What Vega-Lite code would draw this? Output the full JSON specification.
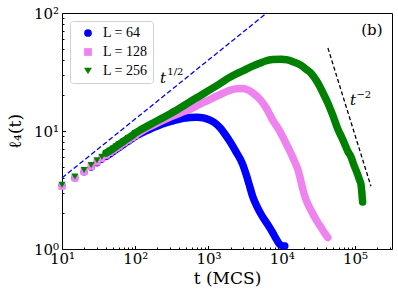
{
  "$schema": "https://vega.github.io/schema/vega-lite/v6.json",
  "width": 330,
  "height": 236,
  "autosize": {"type": "none"},
  "padding": {"left": 62, "top": 13, "right": 6, "bottom": 48},
  "config": {
    "view": {"stroke": "black", "strokeWidth": 1},
    "font": "DejaVu Serif",
    "legend": {
      "orient": "top-left", "offset": 8, "padding": 5, "strokeColor": "#d0d0d0", "fillColor": "white",
      "cornerRadius": 3, "labelFont": "Liberation Serif", "labelFontSize": 14, "labelColor": "black",
      "symbolSize": 60, "rowPadding": 5, "labelOffset": 8, "symbolOffset": 6
    }
  },
  "datasets": {
    "curves": [
      {"L": "L = 64", "t": 10, "l4": 3.45}, {"L": "L = 64", "t": 15, "l4": 4.0}, {"L": "L = 64", "t": 20, "l4": 4.5},
      {"L": "L = 64", "t": 25, "l4": 4.93}, {"L": "L = 64", "t": 30, "l4": 5.35}, {"L": "L = 64", "t": 35, "l4": 5.75},
      {"L": "L = 64", "t": 40, "l4": 6.1}, {"L": "L = 64", "t": 45, "l4": 6.4}, {"L": "L = 64", "t": 50, "l4": 6.7},
      {"L": "L = 64", "t": 55, "l4": 7.0}, {"L": "L = 64", "t": 60, "l4": 7.25}, {"L": "L = 64", "t": 70, "l4": 7.75},
      {"L": "L = 64", "t": 80, "l4": 8.2}, {"L": "L = 64", "t": 90, "l4": 8.6}, {"L": "L = 64", "t": 100, "l4": 9.0},
      {"L": "L = 64", "t": 117, "l4": 9.5}, {"L": "L = 64", "t": 150, "l4": 10.2}, {"L": "L = 64", "t": 200, "l4": 11.0},
      {"L": "L = 64", "t": 260, "l4": 11.7}, {"L": "L = 64", "t": 330, "l4": 12.2}, {"L": "L = 64", "t": 450, "l4": 12.8},
      {"L": "L = 64", "t": 560, "l4": 13.0}, {"L": "L = 64", "t": 700, "l4": 13.1}, {"L": "L = 64", "t": 850, "l4": 12.9},
      {"L": "L = 64", "t": 1000, "l4": 12.5}, {"L": "L = 64", "t": 1200, "l4": 11.8}, {"L": "L = 64", "t": 1450, "l4": 10.6},
      {"L": "L = 64", "t": 1700, "l4": 9.3}, {"L": "L = 64", "t": 2000, "l4": 8.0}, {"L": "L = 64", "t": 2400, "l4": 6.6},
      {"L": "L = 64", "t": 2900, "l4": 5.3}, {"L": "L = 64", "t": 3300, "l4": 4.2}, {"L": "L = 64", "t": 3600, "l4": 3.5},
      {"L": "L = 64", "t": 4000, "l4": 2.8}, {"L": "L = 64", "t": 4650, "l4": 2.25}, {"L": "L = 64", "t": 5400, "l4": 1.9},
      {"L": "L = 64", "t": 6400, "l4": 1.62}, {"L": "L = 64", "t": 7500, "l4": 1.38}, {"L": "L = 64", "t": 8500, "l4": 1.2},
      {"L": "L = 64", "t": 9300, "l4": 1.1}, {"L": "L = 64", "t": 10000, "l4": 1.07}, {"L": "L = 64", "t": 11000, "l4": 1.06},

      {"L": "L = 128", "t": 10, "l4": 3.4}, {"L": "L = 128", "t": 15, "l4": 4.0}, {"L": "L = 128", "t": 20, "l4": 4.52},
      {"L": "L = 128", "t": 25, "l4": 5.0}, {"L": "L = 128", "t": 30, "l4": 5.45}, {"L": "L = 128", "t": 35, "l4": 5.85},
      {"L": "L = 128", "t": 40, "l4": 6.25}, {"L": "L = 128", "t": 45, "l4": 6.6}, {"L": "L = 128", "t": 50, "l4": 6.9},
      {"L": "L = 128", "t": 55, "l4": 7.2}, {"L": "L = 128", "t": 60, "l4": 7.45}, {"L": "L = 128", "t": 70, "l4": 7.95},
      {"L": "L = 128", "t": 80, "l4": 8.4}, {"L": "L = 128", "t": 90, "l4": 8.8}, {"L": "L = 128", "t": 100, "l4": 9.2},
      {"L": "L = 128", "t": 117, "l4": 9.8}, {"L": "L = 128", "t": 150, "l4": 10.7}, {"L": "L = 128", "t": 220, "l4": 12.0},
      {"L": "L = 128", "t": 300, "l4": 13.1}, {"L": "L = 128", "t": 420, "l4": 14.3}, {"L": "L = 128", "t": 560, "l4": 15.3},
      {"L": "L = 128", "t": 750, "l4": 16.8}, {"L": "L = 128", "t": 1000, "l4": 18.3}, {"L": "L = 128", "t": 1300, "l4": 19.8},
      {"L": "L = 128", "t": 1600, "l4": 21.0}, {"L": "L = 128", "t": 2000, "l4": 22.2}, {"L": "L = 128", "t": 2400, "l4": 22.8},
      {"L": "L = 128", "t": 2900, "l4": 22.9}, {"L": "L = 128", "t": 3500, "l4": 22.2}, {"L": "L = 128", "t": 4200, "l4": 20.6},
      {"L": "L = 128", "t": 5150, "l4": 18.3}, {"L": "L = 128", "t": 6200, "l4": 15.5}, {"L": "L = 128", "t": 7500, "l4": 12.4},
      {"L": "L = 128", "t": 8600, "l4": 10.9}, {"L": "L = 128", "t": 9700, "l4": 9.6}, {"L": "L = 128", "t": 11500, "l4": 7.8},
      {"L": "L = 128", "t": 13300, "l4": 6.5}, {"L": "L = 128", "t": 15000, "l4": 5.5}, {"L": "L = 128", "t": 16600, "l4": 4.7},
      {"L": "L = 128", "t": 18000, "l4": 3.9}, {"L": "L = 128", "t": 19400, "l4": 3.2}, {"L": "L = 128", "t": 21500, "l4": 2.6},
      {"L": "L = 128", "t": 25000, "l4": 2.14}, {"L": "L = 128", "t": 29000, "l4": 1.8}, {"L": "L = 128", "t": 34000, "l4": 1.54},
      {"L": "L = 128", "t": 38000, "l4": 1.38}, {"L": "L = 128", "t": 42500, "l4": 1.25},

      {"L": "L = 256", "t": 10, "l4": 3.5}, {"L": "L = 256", "t": 15, "l4": 4.12}, {"L": "L = 256", "t": 20, "l4": 4.67},
      {"L": "L = 256", "t": 25, "l4": 5.15}, {"L": "L = 256", "t": 30, "l4": 5.65}, {"L": "L = 256", "t": 35, "l4": 6.05},
      {"L": "L = 256", "t": 40, "l4": 6.5}, {"L": "L = 256", "t": 45, "l4": 6.8}, {"L": "L = 256", "t": 50, "l4": 7.1},
      {"L": "L = 256", "t": 55, "l4": 7.4}, {"L": "L = 256", "t": 60, "l4": 7.7}, {"L": "L = 256", "t": 70, "l4": 8.2},
      {"L": "L = 256", "t": 80, "l4": 8.7}, {"L": "L = 256", "t": 90, "l4": 9.1}, {"L": "L = 256", "t": 100, "l4": 9.6},
      {"L": "L = 256", "t": 117, "l4": 10.2}, {"L": "L = 256", "t": 150, "l4": 11.1}, {"L": "L = 256", "t": 220, "l4": 12.6},
      {"L": "L = 256", "t": 300, "l4": 14.0}, {"L": "L = 256", "t": 420, "l4": 15.8}, {"L": "L = 256", "t": 560, "l4": 17.7},
      {"L": "L = 256", "t": 780, "l4": 20.0}, {"L": "L = 256", "t": 1000, "l4": 22.0}, {"L": "L = 256", "t": 1400, "l4": 25.0},
      {"L": "L = 256", "t": 1820, "l4": 27.8}, {"L": "L = 256", "t": 2400, "l4": 30.5}, {"L": "L = 256", "t": 3000, "l4": 32.5},
      {"L": "L = 256", "t": 4000, "l4": 35.5}, {"L": "L = 256", "t": 5000, "l4": 37.5}, {"L": "L = 256", "t": 6000, "l4": 39.2},
      {"L": "L = 256", "t": 7500, "l4": 40.3}, {"L": "L = 256", "t": 9700, "l4": 40.6}, {"L": "L = 256", "t": 12000, "l4": 40.0},
      {"L": "L = 256", "t": 14500, "l4": 38.5}, {"L": "L = 256", "t": 18400, "l4": 36.0}, {"L": "L = 256", "t": 22000, "l4": 33.0},
      {"L": "L = 256", "t": 25000, "l4": 31.0}, {"L": "L = 256", "t": 30000, "l4": 26.5}, {"L": "L = 256", "t": 34000, "l4": 23.0},
      {"L": "L = 256", "t": 38000, "l4": 20.0}, {"L": "L = 256", "t": 42500, "l4": 17.3}, {"L": "L = 256", "t": 50000, "l4": 13.5},
      {"L": "L = 256", "t": 59000, "l4": 10.2}, {"L": "L = 256", "t": 65000, "l4": 9.0}, {"L": "L = 256", "t": 72000, "l4": 7.8},
      {"L": "L = 256", "t": 80000, "l4": 6.7}, {"L": "L = 256", "t": 88000, "l4": 6.05}, {"L": "L = 256", "t": 96000, "l4": 5.2},
      {"L": "L = 256", "t": 103000, "l4": 4.67}, {"L": "L = 256", "t": 110000, "l4": 4.2}, {"L": "L = 256", "t": 116000, "l4": 3.8},
      {"L": "L = 256", "t": 120000, "l4": 3.6}, {"L": "L = 256", "t": 124000, "l4": 3.0}, {"L": "L = 256", "t": 127000, "l4": 2.5}
    ],
    "guides": [
      {"g": "half", "t": 10, "v": 4.0}, {"g": "half", "t": 6250, "v": 100},
      {"g": "minus2", "t": 42700, "v": 50.5}, {"g": "minus2", "t": 165000, "v": 3.4}
    ],
    "tnotes": [
      {"t": 240, "v": 28.1, "txt": "t"}, {"t": 94000, "v": 18.3, "txt": "t"}
    ],
    "supnotes": [
      {"t": 353, "v": 31.6, "txt": "1/2"}, {"t": 132000, "v": 20.2, "txt": "−2"}
    ],
    "panel": [
      {"t": 170000, "v": 71.9, "txt": "(b)"}
    ]
  },
  "layer": [
    {
      "data": {"name": "guides"},
      "transform": [{"filter": "datum.g == 'half'"}],
      "mark": {"type": "line", "color": "#0000ff", "strokeWidth": 1.3, "strokeDash": [5, 2.5]},
      "encoding": {
        "x": {
          "field": "t", "type": "quantitative",
          "scale": {"type": "log", "domain": [10, 320000], "nice": false},
          "axis": {
            "values": [10, 20, 30, 40, 50, 60, 70, 80, 90, 100, 200, 300, 400, 500, 600, 700, 800, 900, 1000, 2000, 3000, 4000, 5000, 6000, 7000, 8000, 9000, 10000, 20000, 30000, 40000, 50000, 60000, 70000, 80000, 90000, 100000, 200000, 300000],
            "labelExpr": "abs(log(datum.value)/LN10 - round(log(datum.value)/LN10)) < 0.001 ? '10' + ['⁰','¹','²','³','⁴','⁵','⁶'][round(log(datum.value)/LN10)] : ''",
            "tickSize": {"condition": {"test": "abs(log(datum.value)/LN10 - round(log(datum.value)/LN10)) < 0.001", "value": -3.5}, "value": -2},
            "labelPadding": 6, "labelFlush": false, "labelOverlap": false, "labelBound": false,
            "grid": false, "domain": false, "tickColor": "black", "labelColor": "black",
            "labelFontSize": 15, "labelFont": "DejaVu Serif",
            "title": "t (MCS)", "titleFontSize": 17, "titleFont": "DejaVu Serif", "titleFontWeight": "normal", "titleColor": "black", "titlePadding": 2
          }
        },
        "y": {
          "field": "v", "type": "quantitative",
          "scale": {"type": "log", "domain": [1, 100], "nice": false},
          "axis": {
            "values": [1, 2, 3, 4, 5, 6, 7, 8, 9, 10, 20, 30, 40, 50, 60, 70, 80, 90, 100],
            "labelExpr": "abs(log(datum.value)/LN10 - round(log(datum.value)/LN10)) < 0.001 ? '10' + ['⁰','¹','²','³'][round(log(datum.value)/LN10)] : ''",
            "tickSize": {"condition": {"test": "abs(log(datum.value)/LN10 - round(log(datum.value)/LN10)) < 0.001", "value": -3.5}, "value": -2},
            "labelPadding": 7, "labelFlush": false, "labelOverlap": false, "labelBound": false,
            "grid": false, "domain": false, "tickColor": "black", "labelColor": "black",
            "labelFontSize": 15, "labelFont": "DejaVu Serif",
            "title": "ℓ₄(t)", "titleFontSize": 17, "titleFont": "DejaVu Serif", "titleFontWeight": "normal", "titleColor": "black", "titlePadding": 9
          }
        }
      }
    },
    {
      "data": {"name": "guides"},
      "transform": [{"filter": "datum.g == 'minus2'"}],
      "mark": {"type": "line", "color": "black", "strokeWidth": 1.3, "strokeDash": [4, 2.5]},
      "encoding": {"x": {"field": "t", "type": "quantitative"}, "y": {"field": "v", "type": "quantitative"}}
    },
    {
      "data": {"name": "curves"},
      "transform": [{"filter": "datum.L == 'L = 64' && datum.t >= 40"}],
      "mark": {"type": "line", "color": "#0000ff", "strokeWidth": 7.5, "strokeCap": "round", "strokeJoin": "round", "interpolate": "monotone"},
      "encoding": {"x": {"field": "t", "type": "quantitative"}, "y": {"field": "l4", "type": "quantitative"}}
    },
    {
      "data": {"name": "curves"},
      "transform": [{"filter": "datum.L == 'L = 64' && datum.t <= 100"}],
      "mark": {"type": "point", "filled": true, "size": 50, "opacity": 1},
      "encoding": {
        "x": {"field": "t", "type": "quantitative"}, "y": {"field": "l4", "type": "quantitative"},
        "color": {"field": "L", "type": "nominal", "scale": {"domain": ["L = 64", "L = 128", "L = 256"], "range": ["#0000ff", "#ee82ee", "#008000"]}, "legend": {"title": null}},
        "shape": {"field": "L", "type": "nominal", "scale": {"domain": ["L = 64", "L = 128", "L = 256"], "range": ["circle", "square", "triangle-down"]}, "legend": {"title": null}}
      }
    },
    {
      "data": {"name": "curves"},
      "transform": [{"filter": "datum.L == 'L = 128' && datum.t >= 40"}],
      "mark": {"type": "line", "color": "#ee82ee", "strokeWidth": 7.5, "strokeCap": "round", "strokeJoin": "round", "interpolate": "monotone"},
      "encoding": {"x": {"field": "t", "type": "quantitative"}, "y": {"field": "l4", "type": "quantitative"}}
    },
    {
      "data": {"name": "curves"},
      "transform": [{"filter": "datum.L == 'L = 128' && datum.t <= 100"}],
      "mark": {"type": "point", "filled": true, "size": 50, "opacity": 1},
      "encoding": {
        "x": {"field": "t", "type": "quantitative"}, "y": {"field": "l4", "type": "quantitative"},
        "color": {"field": "L", "type": "nominal"},
        "shape": {"field": "L", "type": "nominal"}
      }
    },
    {
      "data": {"name": "curves"},
      "transform": [{"filter": "datum.L == 'L = 256' && datum.t >= 40"}],
      "mark": {"type": "line", "color": "#008000", "strokeWidth": 7.5, "strokeCap": "round", "strokeJoin": "round", "interpolate": "monotone"},
      "encoding": {"x": {"field": "t", "type": "quantitative"}, "y": {"field": "l4", "type": "quantitative"}}
    },
    {
      "data": {"name": "curves"},
      "transform": [{"filter": "datum.L == 'L = 256' && datum.t <= 100"}],
      "mark": {"type": "point", "filled": true, "size": 50, "opacity": 1},
      "encoding": {
        "x": {"field": "t", "type": "quantitative"}, "y": {"field": "l4", "type": "quantitative"},
        "color": {"field": "L", "type": "nominal"},
        "shape": {"field": "L", "type": "nominal"}
      }
    },
    {
      "data": {"name": "tnotes"},
      "mark": {"type": "text", "font": "DejaVu Serif", "fontSize": 15, "fontStyle": "italic", "color": "black", "align": "center", "baseline": "middle"},
      "encoding": {"x": {"field": "t", "type": "quantitative"}, "y": {"field": "v", "type": "quantitative"}, "text": {"field": "txt"}}
    },
    {
      "data": {"name": "supnotes"},
      "mark": {"type": "text", "font": "DejaVu Serif", "fontSize": 10, "color": "black", "align": "center", "baseline": "middle"},
      "encoding": {"x": {"field": "t", "type": "quantitative"}, "y": {"field": "v", "type": "quantitative"}, "text": {"field": "txt"}}
    },
    {
      "data": {"name": "panel"},
      "mark": {"type": "text", "font": "DejaVu Serif", "fontSize": 15, "color": "black", "align": "center", "baseline": "middle"},
      "encoding": {"x": {"field": "t", "type": "quantitative"}, "y": {"field": "v", "type": "quantitative"}, "text": {"field": "txt"}}
    }
  ]
}
